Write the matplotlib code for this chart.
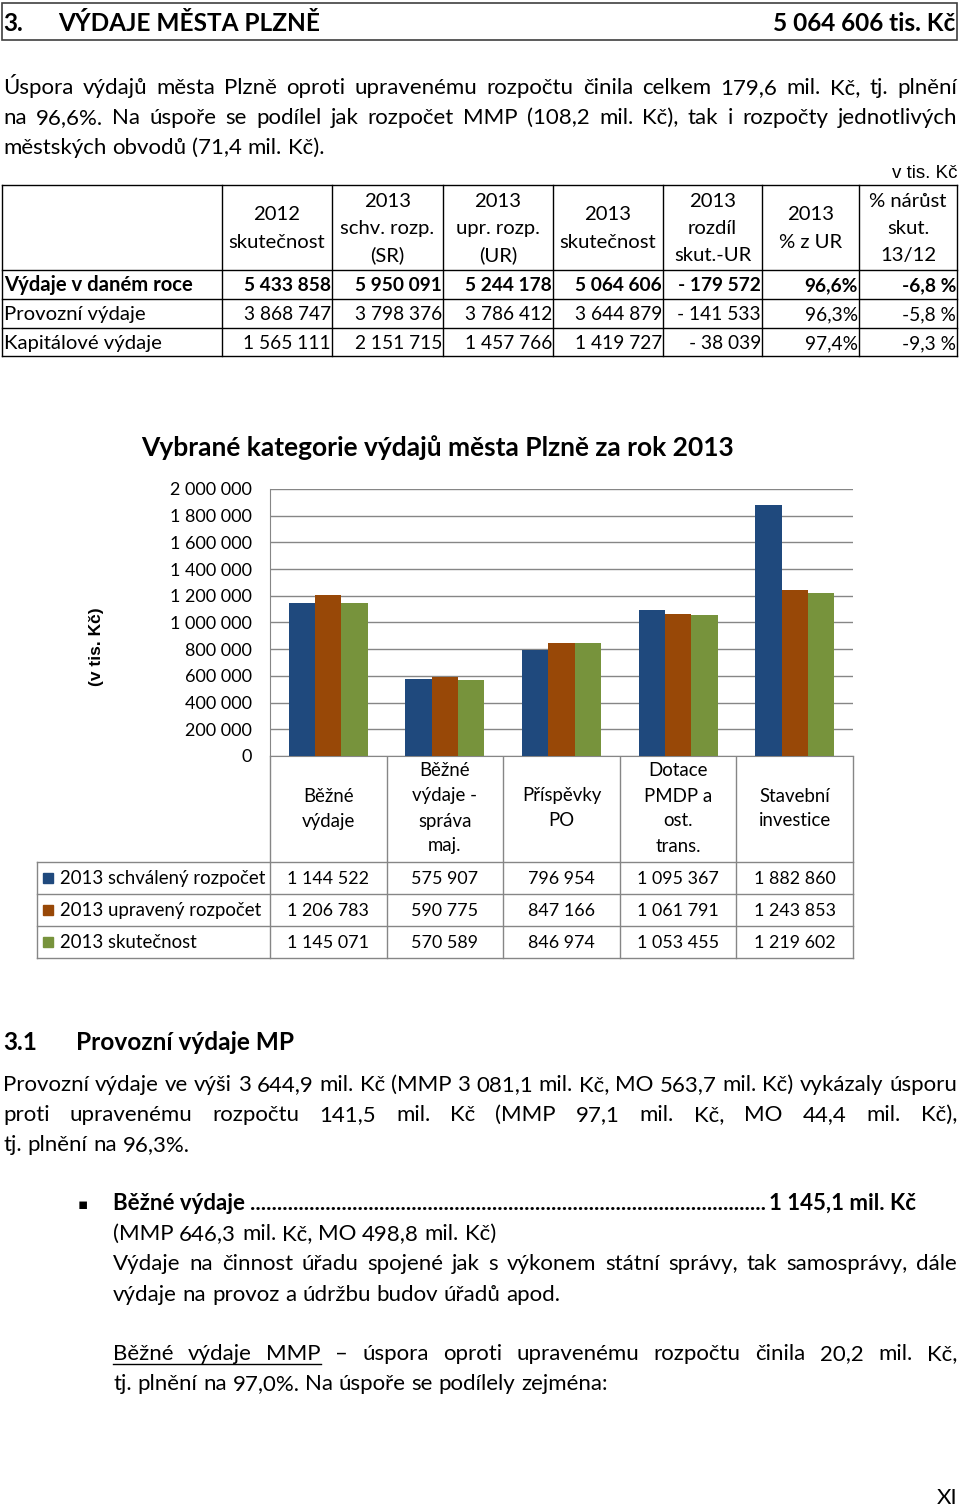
import numpy as np
import matplotlib.pyplot as plt
from matplotlib.patches import Rectangle
from matplotlib.ticker import FuncFormatter
from matplotlib.transforms import blended_transform_factory

plt.rcParams['font.family'] = ['Lato', 'DejaVu Sans']

W, H = 960, 1509

# tabulka vydaju (v tis. Kc)
radky = ['Výdaje v daném roce', 'Provozní výdaje', 'Kapitálové výdaje']
hlavicka = [['2012', 'skutečnost'], ['2013', 'schv. rozp.', '(SR)'], ['2013', 'upr. rozp.', '(UR)'],
            ['2013', 'skutečnost'], ['2013', 'rozdíl', 'skut.-UR'], ['2013', '% z UR'],
            ['% nárůst', 'skut.', '13/12']]
skut_2012 = [5433858, 3868747, 1565111]
schv_2013 = [5950091, 3798376, 2151715]
upr_2013 = [5244178, 3786412, 1457766]
skut_2013 = [5064606, 3644879, 1419727]
rozdil = [-179572, -141533, -38039]
plneni = [96.6, 96.3, 97.4]
narust = [-6.8, -5.8, -9.3]

# graf - vybrane kategorie
kategorie = [['Běžné', 'výdaje'], ['Běžné', 'výdaje -', 'správa', 'maj.'], ['Příspěvky', 'PO'],
             ['Dotace', 'PMDP a', 'ost.', 'trans.'], ['Stavební', 'investice']]
serie = ['2013 schválený rozpočet', '2013 upravený rozpočet', '2013 skutečnost']
schvaleny = [1144522, 575907, 796954, 1095367, 1882860]
upraveny = [1206783, 590775, 847166, 1061791, 1243853]
skutecnost = [1145071, 570589, 846974, 1053455, 1219602]
barvy = ['#1F497D', '#984807', '#77933C']


def fmt(n):
    s = '{:,}'.format(abs(n)).replace(',', ' ')
    return '- ' + s if n < 0 else s


def proc(p, mezera=''):
    return '{:.1f}'.format(p).replace('.', ',') + mezera + '%'


fig = plt.figure(figsize=(W / 100, H / 100), dpi=100)
pg = fig.add_axes([0, 0, 1, 1])
pg.set_xlim(0, W)
pg.set_ylim(H, 0)
pg.axis('off')
r = fig.canvas.get_renderer()

BODY = 16
NADP = 17.6


def sirka(t):
    return t.get_window_extent(renderer=r).width


def zmer(s, size, weight='normal'):
    # pomocne mereni sirky textu, text se hned odstrani
    t = pg.text(0, 500, s, fontsize=size, fontweight=weight)
    w = sirka(t)
    t.remove()
    return w


def radek(text, x0, y, x1=None, size=BODY, weight='normal'):
    # zarovnani do bloku - slova rozlozena mezi x0 a x1
    slova = text.split(' ')
    ts = [pg.text(x0, y, s, fontsize=size, fontweight=weight, va='baseline') for s in slova]
    w = [sirka(t) for t in ts]
    if x1 is None:
        mez = zmer('a a', size) - zmer('aa', size)
    else:
        mez = (x1 - x0 - sum(w)) / (len(w) - 1)
    x = x0
    for t, wi in zip(ts, w):
        t.set_x(x)
        x += wi + mez
    return ts, w


# nadpis
pg.add_patch(Rectangle((2, 3), 955, 37, fill=False, ec='#404040', lw=1.2))
pg.text(3, 31, '3.', fontsize=NADP, fontweight='bold')
pg.text(58, 31, 'VÝDAJE MĚSTA PLZNĚ', fontsize=NADP, fontweight='bold')
pg.text(955, 31, '5 064 606 tis. Kč', fontsize=NADP, fontweight='bold', ha='right')

radek('Úspora výdajů města Plzně oproti upravenému rozpočtu činila celkem 179,6 mil. Kč, tj. plnění', 3, 94, 957)
radek('na 96,6%. Na úspoře se podílel jak rozpočet MMP (108,2 mil. Kč), tak i rozpočty jednotlivých', 3, 124, 957)
radek('městských obvodů (71,4 mil. Kč).', 3, 154)

# tabulka 1
pg.text(957, 178, 'v tis. Kč', fontsize=13.5, family='Liberation Sans', ha='right')
sl = [2, 222, 332, 443, 553, 663, 762, 859, 957]
rh = [185, 270, 299, 328, 356]
for yy in rh:
    pg.plot([sl[0], sl[-1]], [yy, yy], color='k', lw=1)
for xx in sl:
    pg.plot([xx, xx], [rh[0], rh[-1]], color='k', lw=1)
TS = 14.6
for j, h in enumerate(hlavicka):
    xc = (sl[j + 1] + sl[j + 2]) / 2
    y0 = 234 - (len(h) - 1) * 13.5
    for k, s in enumerate(h):
        pg.text(xc, y0 + k * 27, s, fontsize=TS, ha='center', va='baseline')
for i, nazev in enumerate(radky):
    yb = [291, 320, 349][i]
    wt = 'bold' if i == 0 else 'normal'
    pg.text(4, yb, nazev, fontsize=TS, fontweight=wt)
    hodnoty = [fmt(skut_2012[i]), fmt(schv_2013[i]), fmt(upr_2013[i]), fmt(skut_2013[i]),
               fmt(rozdil[i]), proc(plneni[i]), proc(narust[i], ' ')]
    for j, s in enumerate(hodnoty):
        pg.text(sl[j + 2] - 1, yb, s, fontsize=TS - 0.8, fontweight=wt, ha='right')

# graf
CS = 13.4
ax = fig.add_axes([270 / W, 1 - 756 / H, (853 - 270) / W, (756 - 489) / H])
x = np.arange(len(schvaleny))
bw = 0.226
for i, (vals, c) in enumerate(zip([schvaleny, upraveny, skutecnost], barvy)):
    ax.bar(x + (i - 1) * bw, vals, bw, color=c, zorder=3)
ax.set_xlim(-0.5, len(x) - 0.5)
ax.set_ylim(0, 2000000)
ax.set_yticks(np.arange(0, 2000001, 200000))
ax.yaxis.set_major_formatter(FuncFormatter(lambda v, p: fmt(int(v))))
ax.grid(axis='y', color='#868686', lw=1, zorder=0)
ax.set_xticks([])
ax.tick_params(axis='y', length=0, pad=13, labelsize=13)
for s in ['top', 'right']:
    ax.spines[s].set_visible(False)
for s in ['left', 'bottom']:
    ax.spines[s].set_color('#868686')

pg.text(438, 456, 'Vybrané kategorie výdajů města Plzně za rok 2013', fontsize=19,
        fontweight='bold', ha='center')
pg.text(96, 647, '(v tis. Kč)', fontsize=12.5, family='Liberation Sans', fontweight='bold',
        rotation=90, ha='center', va='center')

# tabulka pod grafem
bt = blended_transform_factory(ax.transData, pg.transData)
seda = '#868686'
for k in range(len(x) + 1):
    pg.plot([k - 0.5, k - 0.5], [756, 958], color=seda, lw=1, transform=bt)
for yy in [862, 894, 926, 958]:
    pg.plot([37, 853], [yy, yy], color=seda, lw=1)
pg.plot([37, 37], [862, 958], color=seda, lw=1)
for i, kat in enumerate(kategorie):
    y0 = 814 - (len(kat) - 1) * 12.5
    for k, s in enumerate(kat):
        pg.text(i, y0 + k * 25, s, fontsize=CS, ha='center', transform=bt)
for j, (nazev, vals, c) in enumerate(zip(serie, [schvaleny, upraveny, skutecnost], barvy)):
    yb = 884 + j * 32
    pg.add_patch(Rectangle((43, yb - 11), 10, 10, color=c))
    pg.text(60, yb, nazev, fontsize=CS)
    for i, v in enumerate(vals):
        pg.text(i, yb, fmt(v), fontsize=CS - 0.5, ha='center', transform=bt)

# 3.1
pg.text(3, 1050, '3.1', fontsize=NADP, fontweight='bold')
pg.text(76, 1050, 'Provozní výdaje MP', fontsize=NADP, fontweight='bold')
radek('Provozní výdaje ve výši 3 644,9 mil. Kč (MMP 3 081,1 mil. Kč, MO 563,7 mil. Kč) vykázaly úsporu', 3, 1091, 957)
radek('proti upravenému rozpočtu 141,5 mil. Kč (MMP 97,1 mil. Kč, MO 44,4 mil. Kč),', 3, 1121, 957)
radek('tj. plnění na 96,3%.', 3, 1151)

pg.text(78, 1209, '▪', fontsize=11, family=['DejaVu Sans'])
t1 = pg.text(113, 1210, 'Běžné výdaje ', fontsize=BODY, fontweight='bold')
t2 = pg.text(916, 1210, '1 145,1 mil. Kč', fontsize=BODY, fontweight='bold', ha='right')
x_a = 113 + sirka(t1)
x_b = 916 - sirka(t2)
dot = zmer('.' * 20, BODY, 'bold') / 20
pg.text(x_a, 1210, '.' * int((x_b - x_a) / dot), fontsize=BODY, fontweight='bold')
radek('(MMP 646,3 mil. Kč, MO 498,8 mil. Kč)', 113, 1240)
radek('Výdaje na činnost úřadu spojené jak s výkonem státní správy, tak samosprávy, dále', 113, 1270, 957)
radek('výdaje na provoz a údržbu budov úřadů apod.', 113, 1301)
ts, w = radek('Běžné výdaje MMP – úspora oproti upravenému rozpočtu činila 20,2 mil. Kč,', 113, 1360, 957)
pg.plot([113, ts[2].get_position()[0] + w[2]], [1364, 1364], color='k', lw=1)
radek('tj. plnění na 97,0%. Na úspoře se podílely zejména:', 113, 1390)

pg.text(957, 1504, 'XI', fontsize=BODY, ha='right')

fig.savefig('out.png', dpi=100)
